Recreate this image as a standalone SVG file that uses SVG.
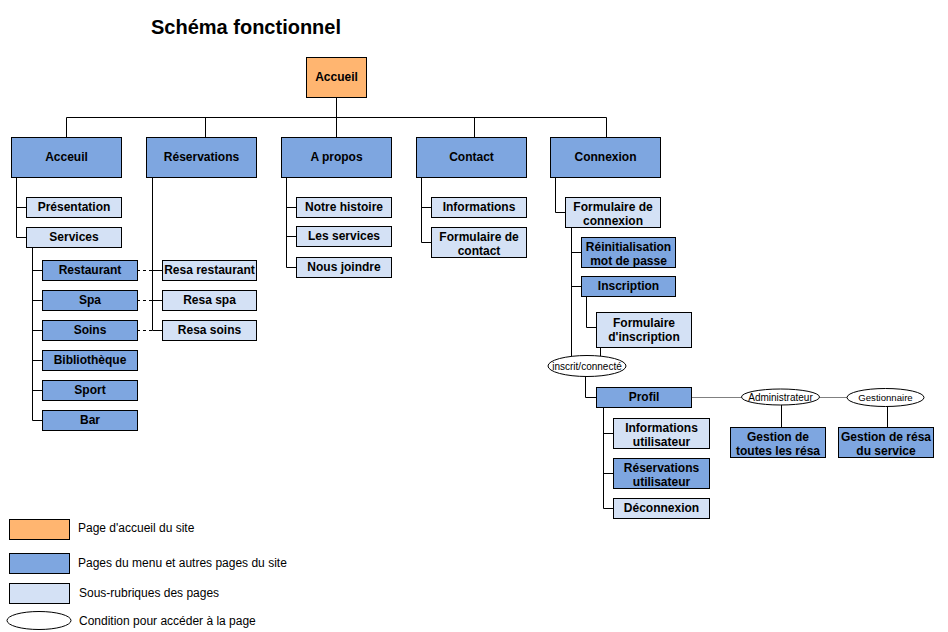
<svg xmlns="http://www.w3.org/2000/svg" width="948" height="632" viewBox="0 0 948 632">
<style>
rect{stroke:#000;stroke-width:1}
.o{fill:#FFB570}
.b{fill:#7EA6E0}
.l{fill:#D4E1F5}
ellipse{fill:#fff;stroke:#000;stroke-width:1}
text{font-family:"Liberation Sans",Arial,sans-serif;fill:#000}
.t{font-size:12px;font-weight:bold;text-anchor:middle}
.s{font-size:10px;text-anchor:middle}
.g{font-size:12px}
.c path{fill:none;stroke:#000;stroke-width:1}
.c .d{stroke-dasharray:3 3}
.c .gr{stroke:#808080}
</style>
<rect width="948" height="632" fill="#fff" style="stroke:none"/>
<text x="246" y="34" style="font-size:20px;font-weight:bold;text-anchor:middle">Schéma fonctionnel</text>

<g class="c" id="connectors">
<path d="M336.5 97V117.5M66.5 137V117.5H606.5V137M205.5 117.5V137M336.5 117.5V137M474.5 117.5V137"/>
<path d="M16.5 177V237.5H26M16.5 207.5H26"/>
<path d="M32.5 247V420.5H42M32.5 270.5H42M32.5 300.5H42M32.5 330.5H42M32.5 360.5H42M32.5 390.5H42"/>
<path d="M152.5 177V330.5H162M152.5 270.5H162M152.5 300.5H162"/>
<path class="d" d="M137 270.5H152.5M137 300.5H152.5M137 330.5H152.5"/>
<path d="M286.5 177V267.5H296M286.5 207.5H296M286.5 236.5H296"/>
<path d="M421.5 177V242.5H431M421.5 207.5H431"/>
<path d="M555.5 177V212.5H565"/>
<path d="M571.5 227V356M571.5 252.5H581M571.5 286.5H581"/>
<path d="M586.5 296V327.5H596"/>
<path d="M600.5 347V356"/>
<path d="M585.5 376.5V397.5H596"/>
<path d="M603.5 407V508.5H613M603.5 433.5H613M603.5 473.5H613"/>
<path class="gr" d="M691 397.5H741.5M819.5 397.5H847"/>
<path d="M781.5 405V427M887.5 406V427"/>
</g>

<g id="accueil"><rect class="o" x="306.5" y="57.5" width="60" height="40"/><text class="t" x="336.5" y="81">Accueil</text></g>

<g id="n-acceuil"><rect class="b" x="11.5" y="137.5" width="110" height="40"/><text class="t" x="66.5" y="161">Acceuil</text></g>
<g id="n-reservations"><rect class="b" x="146.5" y="137.5" width="110" height="40"/><text class="t" x="201.5" y="161">Réservations</text></g>
<g id="n-apropos"><rect class="b" x="281.5" y="137.5" width="110" height="40"/><text class="t" x="336.5" y="161">A propos</text></g>
<g id="n-contact"><rect class="b" x="416.5" y="137.5" width="110" height="40"/><text class="t" x="471.5" y="161">Contact</text></g>
<g id="n-connexion"><rect class="b" x="550.5" y="137.5" width="110" height="40"/><text class="t" x="605.5" y="161">Connexion</text></g>

<g id="presentation"><rect class="l" x="26.5" y="197.5" width="95" height="20"/><text class="t" x="74" y="211">Présentation</text></g>
<g id="services"><rect class="l" x="26.5" y="227.5" width="95" height="20"/><text class="t" x="74" y="241">Services</text></g>

<g id="restaurant"><rect class="b" x="42.5" y="260.5" width="95" height="20"/><text class="t" x="90" y="274">Restaurant</text></g>
<g id="spa"><rect class="b" x="42.5" y="290.5" width="95" height="20"/><text class="t" x="90" y="304">Spa</text></g>
<g id="soins"><rect class="b" x="42.5" y="320.5" width="95" height="20"/><text class="t" x="90" y="334">Soins</text></g>
<g id="bibliotheque"><rect class="b" x="42.5" y="350.5" width="95" height="20"/><text class="t" x="90" y="364">Bibliothèque</text></g>
<g id="sport"><rect class="b" x="42.5" y="380.5" width="95" height="20"/><text class="t" x="90" y="394">Sport</text></g>
<g id="bar"><rect class="b" x="42.5" y="410.5" width="95" height="20"/><text class="t" x="90" y="424">Bar</text></g>

<g id="resa-restaurant"><rect class="l" x="162.5" y="260.5" width="94" height="20"/><text class="t" x="209.5" y="274">Resa restaurant</text></g>
<g id="resa-spa"><rect class="l" x="162.5" y="290.5" width="94" height="20"/><text class="t" x="209.5" y="304">Resa spa</text></g>
<g id="resa-soins"><rect class="l" x="162.5" y="320.5" width="94" height="20"/><text class="t" x="209.5" y="334">Resa soins</text></g>

<g id="notre-histoire"><rect class="l" x="296.5" y="197.5" width="95" height="20"/><text class="t" x="344" y="211">Notre histoire</text></g>
<g id="les-services"><rect class="l" x="296.5" y="226.5" width="95" height="20"/><text class="t" x="344" y="240">Les services</text></g>
<g id="nous-joindre"><rect class="l" x="296.5" y="257.5" width="95" height="20"/><text class="t" x="344" y="271">Nous joindre</text></g>

<g id="informations"><rect class="l" x="431.5" y="197.5" width="95" height="20"/><text class="t" x="479" y="211">Informations</text></g>
<g id="formulaire-contact"><rect class="l" x="431.5" y="227.5" width="95" height="30"/><text class="t" x="479" y="241">Formulaire de</text><text class="t" x="479" y="255">contact</text></g>

<g id="formulaire-connexion"><rect class="l" x="565.5" y="197.5" width="95" height="30"/><text class="t" x="613" y="211">Formulaire de</text><text class="t" x="613" y="225">connexion</text></g>
<g id="reinitialisation"><rect class="b" x="581.5" y="237.5" width="94" height="30"/><text class="t" x="628.5" y="251">Réinitialisation</text><text class="t" x="628.5" y="265">mot de passe</text></g>
<g id="inscription"><rect class="b" x="581.5" y="276.5" width="94" height="20"/><text class="t" x="628.5" y="290">Inscription</text></g>
<g id="formulaire-inscription"><rect class="l" x="596.5" y="312.5" width="95" height="35"/><text class="t" x="644" y="327">Formulaire</text><text class="t" x="644" y="341">d'inscription</text></g>

<g id="inscrit-connecte"><ellipse cx="587" cy="366" rx="39" ry="10.5"/><text class="s" x="587" y="369.5">inscrit/connecté</text></g>

<g id="profil"><rect class="b" x="596.5" y="387.5" width="95" height="20"/><text class="t" x="644" y="401">Profil</text></g>
<g id="informations-utilisateur"><rect class="l" x="613.5" y="418.5" width="96" height="30"/><text class="t" x="661.5" y="432">Informations</text><text class="t" x="661.5" y="446">utilisateur</text></g>
<g id="reservations-utilisateur"><rect class="b" x="613.5" y="458.5" width="96" height="30"/><text class="t" x="661.5" y="472">Réservations</text><text class="t" x="661.5" y="486">utilisateur</text></g>
<g id="deconnexion"><rect class="l" x="613.5" y="498.5" width="96" height="20"/><text class="t" x="661.5" y="512">Déconnexion</text></g>

<g id="administrateur"><ellipse cx="780.5" cy="397" rx="39" ry="8"/><text class="s" x="780.5" y="400.5">Administrateur</text></g>
<g id="gestionnaire"><ellipse cx="885.5" cy="397.5" rx="38.5" ry="9"/><text class="s" x="885.5" y="401" style="font-size:9.6px">Gestionnaire</text></g>

<g id="gestion-toutes"><rect class="b" x="730.5" y="427.5" width="95" height="30"/><text class="t" x="778" y="441">Gestion de</text><text class="t" x="778" y="455">toutes les résa</text></g>
<g id="gestion-service"><rect class="b" x="838.5" y="427.5" width="95" height="30"/><text class="t" x="886" y="441">Gestion de résa</text><text class="t" x="886" y="455">du service</text></g>

<g id="legend">
<rect class="o" x="9.5" y="519.5" width="60" height="20"/><text class="g" x="78" y="532">Page d'accueil du site</text>
<rect class="b" x="9.5" y="553.5" width="60" height="20"/><text class="g" x="78" y="567">Pages du menu et autres pages du site</text>
<rect class="l" x="9.5" y="583.5" width="60" height="20"/><text class="g" x="79" y="597">Sous-rubriques des pages</text>
<ellipse cx="39" cy="620.5" rx="32" ry="9"/><text class="g" x="79" y="624.5">Condition pour accéder à la page</text>
</g>
</svg>
